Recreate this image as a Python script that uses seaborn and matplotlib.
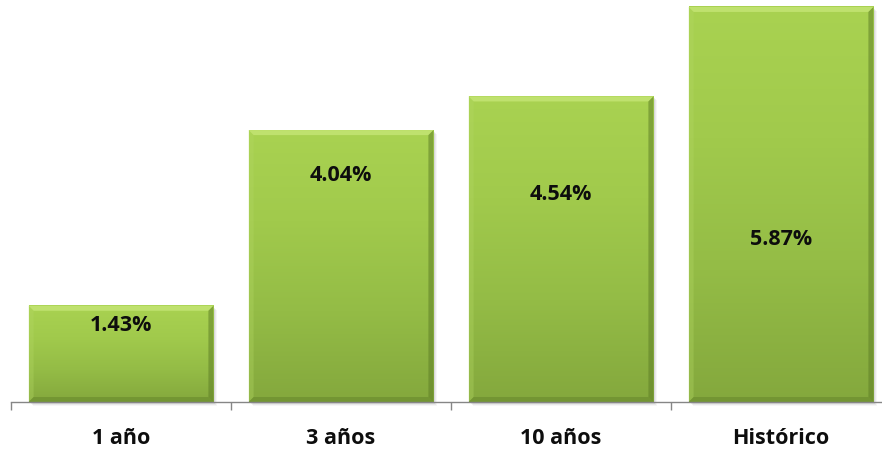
import numpy as np
import pandas as pd
import matplotlib
matplotlib.use("Agg")
import matplotlib.pyplot as plt
import seaborn as sns
from matplotlib.patches import Rectangle, Polygon
from matplotlib.colors import LinearSegmentedColormap

# ---- data ----
categories = ["1 año", "3 años", "10 años", "Histórico"]
values = [1.43, 4.04, 4.54, 5.87]
value_labels = ["1.43%", "4.04%", "4.54%", "5.87%"]

# ---- layout constants ----
label_y = [1.13, 3.37, 3.08, 2.41]   # vertical placement of in-bar labels
W, H = 882, 449
PX_PER_UNIT_Y = 67.3
PX_PER_CAT = 220.0

sns.set_theme(style="white")
plt.rcParams['font.family'] = ['Open Sans', 'DejaVu Sans']

fig = plt.figure(figsize=(W / 100, H / 100), dpi=100)
fig.patch.set_facecolor("white")
ax = fig.add_axes([11 / W, 47 / H, 880 / W, 402 / H])
ax.set_facecolor("white")

df = pd.DataFrame({"cat": categories, "val": values})
sns.barplot(data=df, x="cat", y="val", width=0.84, color="#9cc447",
            saturation=1, ax=ax, zorder=3)

ax.set_xlim(-0.5, 3.5)
ax.set_ylim(0, 402 / PX_PER_UNIT_Y)

dx = 1 / PX_PER_CAT
dy = 1 / PX_PER_UNIT_Y

cmap = LinearSegmentedColormap.from_list(
    "g", ["#84a83d", "#94bc46", "#a1ca4c", "#a9d251"])

for p in list(ax.patches):
    x0, w, h = p.get_x(), p.get_width(), p.get_height()
    p.set_facecolor("none")
    p.set_edgecolor("none")
    # soft shadow
    for k, a in zip([4, 3, 2, 1], [0.06, 0.09, 0.12, 0.16]):
        ax.add_patch(Rectangle((x0 + k * dx, -k * dy), w, h, facecolor="#6b6b6b",
                               edgecolor="none", alpha=a, zorder=2, clip_on=False))
    # gradient fill
    grad = np.linspace(0, 1, 256).reshape(-1, 1)
    ax.imshow(grad, extent=[x0, x0 + w, 0, h], aspect="auto", cmap=cmap,
              origin="lower", zorder=3, interpolation="bicubic")
    b = 5
    # bevels
    ax.add_patch(Polygon([(x0, h), (x0 + w, h), (x0 + w - b * dx, h - b * dy),
                          (x0 + b * dx, h - b * dy)], closed=True,
                         facecolor="#c6e676", edgecolor="none", alpha=0.8, zorder=4))
    ax.add_patch(Polygon([(x0, h), (x0 + b * dx, h - b * dy), (x0 + b * dx, b * dy),
                          (x0, 0)], closed=True,
                         facecolor="#b3d764", edgecolor="none", alpha=0.35, zorder=4))
    ax.add_patch(Polygon([(x0 + w, h), (x0 + w - b * dx, h - b * dy),
                          (x0 + w - b * dx, b * dy), (x0 + w, 0)], closed=True,
                         facecolor="#5f7f27", edgecolor="none", alpha=0.55, zorder=4))
    ax.add_patch(Polygon([(x0, 0), (x0 + b * dx, b * dy), (x0 + w - b * dx, b * dy),
                          (x0 + w, 0)], closed=True,
                         facecolor="#5f7f27", edgecolor="none", alpha=0.45, zorder=4))

for i, (lab, yy) in enumerate(zip(value_labels, label_y)):
    ax.text(i, yy, lab, ha="center", va="center", fontsize=15.5,
            fontweight="bold", color="#0d0d0d", zorder=6)

# axes styling
for s in ["top", "right", "left"]:
    ax.spines[s].set_visible(False)
ax.spines["bottom"].set_color("#868686")
ax.spines["bottom"].set_linewidth(1.0)
ax.spines["bottom"].set_zorder(5)
ax.set_yticks([])
ax.set_xlabel("")
ax.set_ylabel("")
ax.set_xticks([-0.5, 0.5, 1.5, 2.5, 3.5])
ax.set_xticklabels([])
ax.set_xticks([0, 1, 2, 3], minor=True)
ax.set_xticklabels(categories, minor=True, fontsize=15.5, fontweight="bold",
                   color="#0d0d0d")
ax.tick_params(axis="x", which="major", length=6, width=1, color="#868686",
               direction="out", bottom=True)
ax.tick_params(axis="x", which="minor", length=0, pad=19)

fig.savefig("out.png", dpi=100, facecolor="white")
